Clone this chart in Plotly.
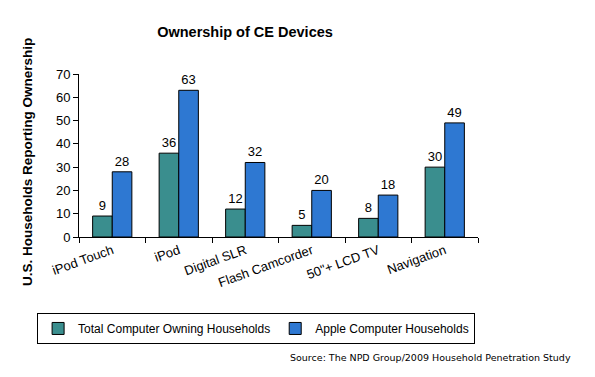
import plotly.graph_objects as go

categories = ["iPod Touch", "iPod", "Digital SLR", "Flash Camcorder", "50\"+ LCD TV", "Navigation"]
total_households = [9, 36, 12, 5, 8, 30]
apple_households = [28, 63, 32, 20, 18, 49]
y_ticks = [0, 10, 20, 30, 40, 50, 60, 70]

W, H = 587, 369  # page body has an 8px margin

fig = go.Figure()
fig.add_trace(go.Bar(
    x=categories, y=total_households, name="Total Computer Owning Households",
    marker=dict(color="#3A8E8E", line=dict(color="black", width=1)),
    text=total_households, textposition="outside",
    textfont=dict(size=13, color="black", family="Liberation Sans"),
    cliponaxis=False,
))
fig.add_trace(go.Bar(
    x=categories, y=apple_households, name="Apple Computer Households",
    marker=dict(color="#2E78D2", line=dict(color="black", width=1)),
    text=apple_households, textposition="outside",
    textfont=dict(size=13, color="black", family="Liberation Sans"),
    cliponaxis=False,
))

fig.update_layout(
    width=W, height=H,
    margin=dict(l=71, r=117, t=66, b=140, autoexpand=False),
    paper_bgcolor="white", plot_bgcolor="white",
    barmode="group", bargap=0.41, bargroupgap=0,
    font=dict(family="Liberation Sans", size=12, color="black"),
    title=dict(text="<b>Ownership of CE Devices</b>", x=237/W, xanchor="center",
               y=1 - 24/H, yanchor="middle", font=dict(size=14.5, family="Liberation Sans"),
               automargin=False),
    showlegend=True,
    legend=dict(orientation="h", x=-0.105, y=-0.466, xanchor="left", yanchor="top",
                bordercolor="black", borderwidth=1, font=dict(size=12),
                itemwidth=30, tracegroupgap=0),
    xaxis=dict(
        showline=True, linecolor="black", linewidth=1, automargin=False,
        ticks="outside", ticklen=5, tickcolor="black", tickson="boundaries",
        tickangle=-20, tickfont=dict(size=13), showgrid=False,
    ),
    yaxis=dict(
        range=[0, 70], tickvals=y_ticks, automargin=False,
        showline=True, linecolor="black", linewidth=1,
        ticks="outside", ticklen=5, tickcolor="black", showgrid=False,
        tickfont=dict(size=13), zeroline=False,
    ),
    annotations=[
        dict(
            text="<b>U.S. Households Reporting Ownership</b>",
            xref="paper", yref="paper", x=(27 - 79) / 399, y=(237 - 162) / 163,
            xanchor="center", yanchor="middle", textangle=-90, showarrow=False,
            font=dict(size=13.5, family="Liberation Sans"),
        ),
        dict(
            text="Source: The NPD Group/2009 Household Penetration Study",
            xref="paper", yref="paper", x=(573 - 79) / 399, y=(237 - 357) / 163,
            xanchor="right", yanchor="middle", showarrow=False,
            font=dict(size=9.5, family="DejaVu Sans"),
        ),
    ],
)

fig.write_html("out.html")
